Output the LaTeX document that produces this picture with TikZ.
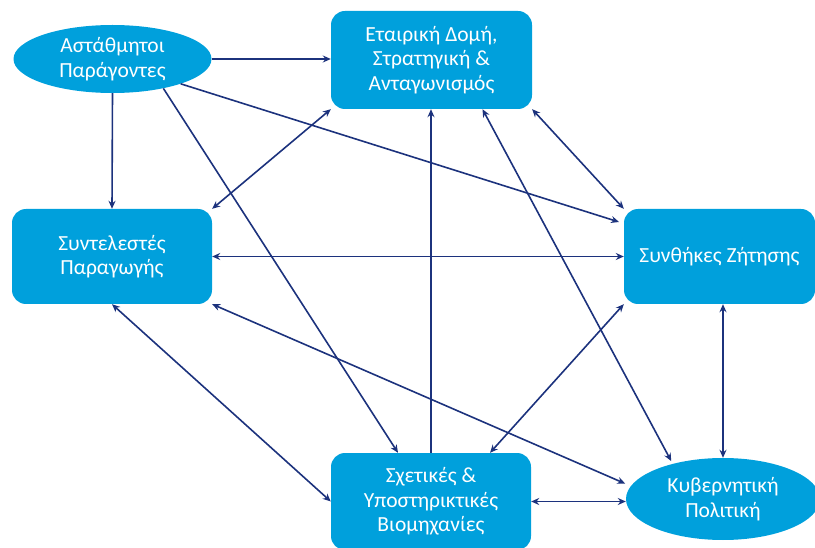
\documentclass[tikz,border=0pt]{standalone}
\usepackage{fontspec}
\setmainfont{Carlito}
\usetikzlibrary{shapes.geometric,arrows.meta}
\definecolor{boxblue}{RGB}{0,160,220}
\definecolor{linknavy}{RGB}{28,50,125}
\begin{document}
\begin{tikzpicture}[x=1pt,y=-1pt,
  every node/.style={text=white, font=\fontsize{21.5}{24.5}\selectfont, align=center, inner sep=0pt},
  blockbox/.style={rectangle, rounded corners=14pt, fill=boxblue},
  blob/.style={ellipse, fill=boxblue},
  link/.style={draw=linknavy, line width=1.6pt, -{Stealth[length=8pt,width=7pt]}},
  both/.style={link, {Stealth[length=8pt,width=7pt]}-{Stealth[length=8pt,width=7pt]}}]
\useasboundingbox (0,0) rectangle (815,548);

% the six factors
\node[blob, minimum width=198pt, minimum height=68pt] (A) at (112.5,59) {Αστάθμητοι\\Παράγοντες};
\node[blockbox, minimum width=201pt, minimum height=98pt] (B) at (431.5,60) {Εταιρική Δομή,\\Στρατηγική \&\\Ανταγωνισμός};
\node[blockbox, minimum width=200pt, minimum height=95pt] (C) at (112,256.5) {Συντελεστές\\Παραγωγής};
\node[blockbox, minimum width=191pt, minimum height=95pt] (D) at (719.5,256.5) {Συνθήκες Ζήτησης};
\node[blockbox, minimum width=200pt, minimum height=97pt] (E) at (431,501.5) {Σχετικές \&\\Υποστηρικτικές\\Βιομηχανίες};
\node[blob, minimum width=194pt, minimum height=82pt] (F) at (723,499) {Κυβερνητική\\Πολιτική};

% one-way influences
\draw[link] (A.east) -- (A.east -| B.west);
\draw[link] (A.south) -- (C.north);
\draw[link] (A.-30) -- ([xshift=-33pt]E.north);
\draw[link, shorten >=5pt] (A.-20) -- ([yshift=33pt]D.west);
\draw[link] (E.north) -- (E.north |- B.south);

% mutual influences
\draw[both] (B.south east) -- (D.north west);
\draw[both] (B.south west) -- (C.north east);
\draw[both] (C.east) -- (D.west);
\draw[both, shorten >=3pt] ([xshift=51pt]B.south) -- (F.145);
\draw[both] (D.south -| F.north) -- (F.north);
\draw[both] (C.south) -- (E.west);
\draw[both, shorten >=6pt] (C.south east) -- (F.172);
\draw[both] (E.east) -- (E.east -| F.west);
\draw[both] (D.south west) -- ([xshift=59pt]E.north);
\end{tikzpicture}
\end{document}
